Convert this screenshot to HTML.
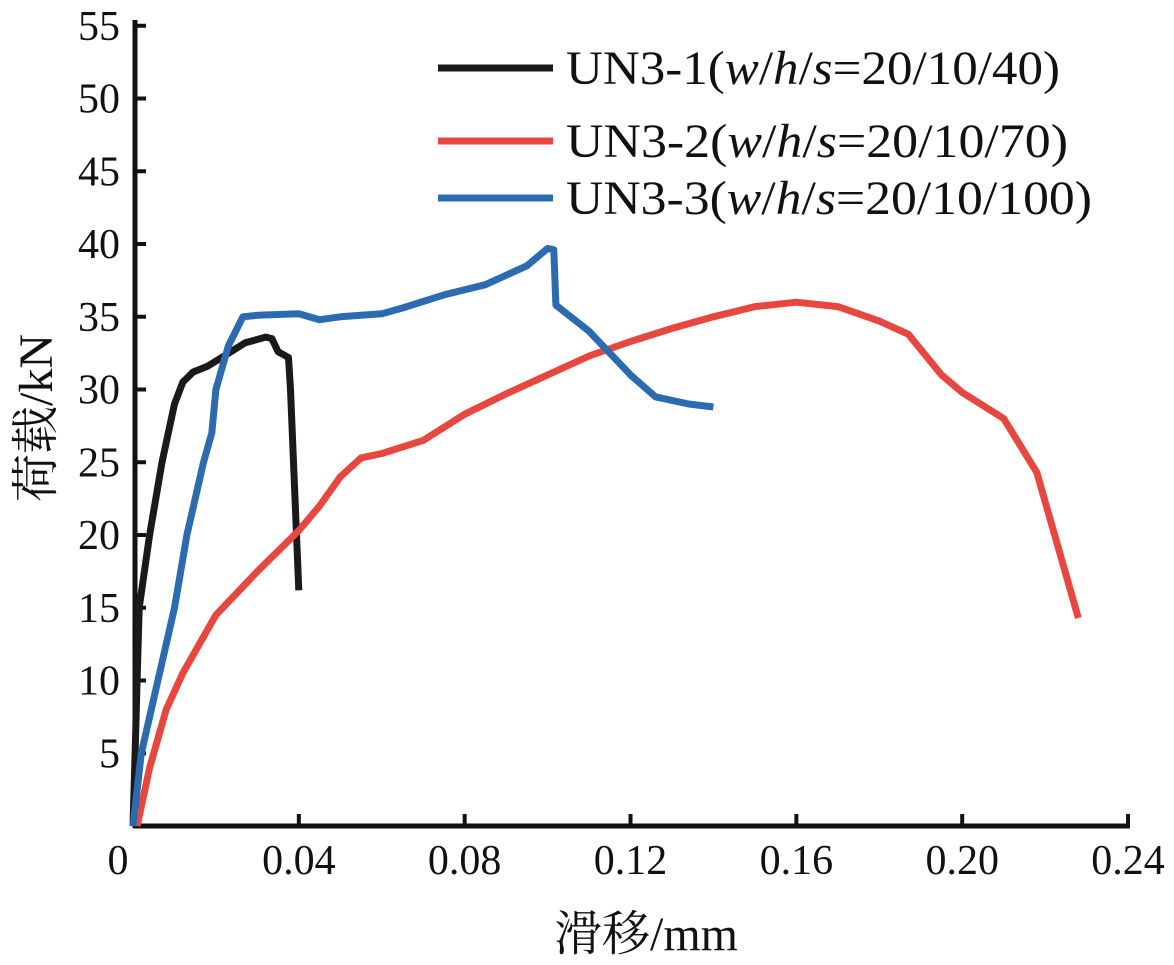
<!DOCTYPE html>
<html><head><meta charset="utf-8"><style>
html,body{margin:0;padding:0;background:#fff;}
svg text{font-family:"Liberation Serif","Noto Serif CJK SC",serif;fill:#111;}
</style></head><body>
<svg id="chart" width="1174" height="960" viewBox="0 0 1174 960" xmlns="http://www.w3.org/2000/svg"></svg>
<script>
const xTicks=[0,0.04,0.08,0.12,0.16,0.20,0.24];
const xTickLabels=["0","0.04","0.08","0.12","0.16","0.20","0.24"];
const yTicks=[5,10,15,20,25,30,35,40,45,50,55];
const seriesNames=["UN3-1","UN3-2","UN3-3"];
const legendSuffix=["=20/10/40)","=20/10/70)","=20/10/100)"];
const un31X=[0,0.0005,0.001,0.0015,0.004,0.007,0.010,0.012,0.0145,0.018,0.022,0.027,0.032,0.0335,0.035,0.0375,0.038,0.040];
const un31Y=[0,5,10,15,20,25,29,30.5,31.2,31.6,32.3,33.2,33.6,33.5,32.6,32.2,30,16.2];
const un32X=[0.001,0.004,0.008,0.012,0.016,0.020,0.025,0.030,0.040,0.045,0.050,0.055,0.060,0.070,0.08,0.09,0.10,0.11,0.12,0.13,0.14,0.15,0.16,0.17,0.18,0.187,0.195,0.20,0.21,0.218,0.228];
const un32Y=[0,4,8,10.5,12.5,14.5,16,17.5,20.3,22,24,25.3,25.6,26.5,28.3,29.7,31,32.3,33.3,34.2,35,35.7,36,35.7,34.7,33.8,31,29.8,28,24.3,14.3];
const un33X=[0,0.002,0.006,0.010,0.013,0.017,0.019,0.020,0.023,0.0265,0.03,0.04,0.045,0.05,0.06,0.065,0.075,0.085,0.095,0.1,0.1015,0.102,0.11,0.12,0.126,0.134,0.14];
const un33Y=[0,5,10,15,20,25,27,30,33,35,35.1,35.2,34.8,35,35.2,35.6,36.5,37.2,38.5,39.7,39.6,35.8,34,31,29.5,29,28.8];

const NS="http://www.w3.org/2000/svg";
const svg=document.getElementById('chart');
const X0=133,XS=4146,Y0=826,YS=14.55;
const sx=v=>X0+v*XS, sy=v=>Y0-v*YS;
function mk(tag,attrs,parent){const e=document.createElementNS(NS,tag);for(const k in attrs)e.setAttribute(k,attrs[k]);(parent||svg).appendChild(e);return e;}

let e=mk('line',{x1:135,y1:20,x2:135,y2:828,stroke:'#111','stroke-width':5});


e=mk('line',{x1:133,y1:826,x2:1130,y2:826,stroke:'#111','stroke-width':5});



yTicks.forEach(v=>{
  const t=mk('line',{x1:135,y1:sy(v),x2:146,y2:sy(v),stroke:'#111','stroke-width':4});
  
  
  const l=mk('text',{x:120,y:sy(v)+14,'text-anchor':'end','font-size':42});
  l.textContent=v;
  
  
});
xTicks.forEach((v,i)=>{
  if(i>0){const t=mk('line',{x1:sx(v),y1:826,x2:sx(v),y2:814,stroke:'#111','stroke-width':4});
  
  }
  const l=mk('text',{x:i==0?118:sx(v),y:874,'text-anchor':'middle','font-size':42});
  l.textContent=xTickLabels[i];
  
  
});

const colors=['#1a1a1a','#e8473f','#2c6bb0'];
const series=[[un31X,un31Y],[un32X,un32Y],[un33X,un33Y]];
series.forEach((s,i)=>{
  const d=s[0].map((x,j)=>(j?'L':'M')+sx(x).toFixed(1)+','+sy(s[1][j]).toFixed(1)).join(' ');
  const p=mk('path',{d:d,fill:'none',stroke:colors[i],'stroke-width':7,'stroke-linejoin':'round'});
  
  
});

const legY=[68,141,198];
const legW=[494,502,526];
seriesNames.forEach((n,i)=>{
  const ln=mk('line',{x1:438,y1:legY[i],x2:553,y2:legY[i],stroke:colors[i],'stroke-width':7});
  
  
  const t=mk('text',{x:566,y:legY[i]+16,'font-size':48,textLength:legW[i],lengthAdjust:'spacingAndGlyphs'});
  
  
  t.appendChild(document.createTextNode(n+'('));
  const it=mk('tspan',{'font-style':'italic'},t);it.textContent='w';
  t.appendChild(document.createTextNode('/'));
  const it2=mk('tspan',{'font-style':'italic'},t);it2.textContent='h';
  t.appendChild(document.createTextNode('/'));
  const it3=mk('tspan',{'font-style':'italic'},t);it3.textContent='s';
  t.appendChild(document.createTextNode(legendSuffix[i]));
});

e=mk('text',{x:646,y:950,'text-anchor':'middle','font-size':48});
e.textContent='滑移/mm';


e=mk('text',{x:0,y:0,'text-anchor':'middle','font-size':48,transform:'translate(52,418) rotate(-90)'});
e.textContent='荷载/kN';


</script>
</body></html>
